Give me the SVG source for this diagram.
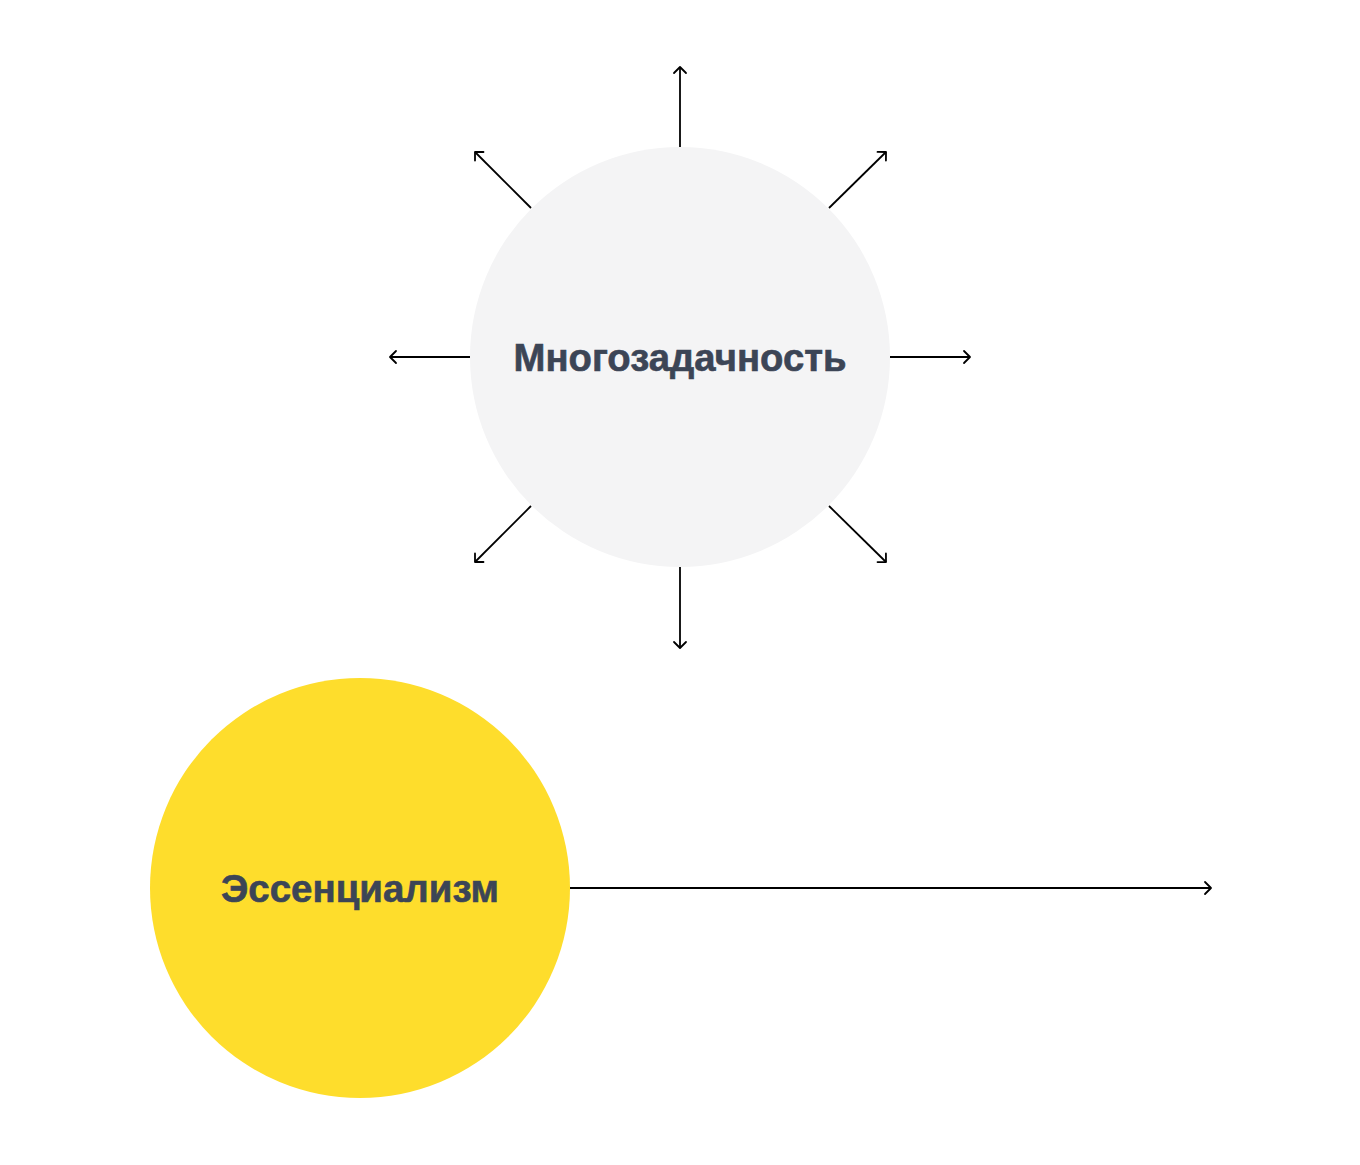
<svg xmlns="http://www.w3.org/2000/svg" width="1360" height="1165" viewBox="0 0 1360 1165">
<defs>
<marker id="arr" viewBox="-8 -8 10 16" refX="0" refY="0" markerWidth="10" markerHeight="16" markerUnits="userSpaceOnUse" orient="auto">
<path d="M-6,-6 L0,0 L-6,6" fill="none" stroke="#000" stroke-width="1.8" stroke-linecap="round" stroke-linejoin="round"/>
</marker>
</defs>
<style>
.c{stroke:#000;stroke-width:1.8;fill:none;marker-end:url(#arr)}
.t{font-family:"Liberation Sans",Arial,sans-serif;font-weight:bold;fill:#3c4556;stroke:#3c4556;stroke-width:0.6;text-anchor:middle}
</style>
<rect width="1360" height="1165" fill="#fff"/>
<g id="node-multitasking">
<circle cx="680" cy="357" r="210" fill="#f4f4f5"/>
<text class="t" x="680" y="371" font-size="39" textLength="333" lengthAdjust="spacingAndGlyphs">Многозадачность</text>
</g>
<g id="node-essentialism">
<circle cx="360" cy="888" r="210" fill="#fedd2c"/>
<text class="t" x="360" y="902" font-size="38" textLength="278" lengthAdjust="spacingAndGlyphs">Эссенциализм</text>
</g>
<g id="connectors">
<line class="c" x1="680" y1="147" x2="680" y2="67"/>
<line class="c" x1="680" y1="567" x2="680" y2="648"/>
<line class="c" x1="470" y1="357" x2="390" y2="357"/>
<line class="c" x1="890" y1="357" x2="970" y2="357"/>
<line class="c" x1="531" y1="208" x2="475" y2="152"/>
<line class="c" x1="829" y1="208" x2="886" y2="152"/>
<line class="c" x1="531" y1="506" x2="475" y2="562"/>
<line class="c" x1="829" y1="506" x2="886" y2="562"/>
<line class="c" x1="570" y1="888" x2="1211" y2="888"/>
</g>
</svg>
